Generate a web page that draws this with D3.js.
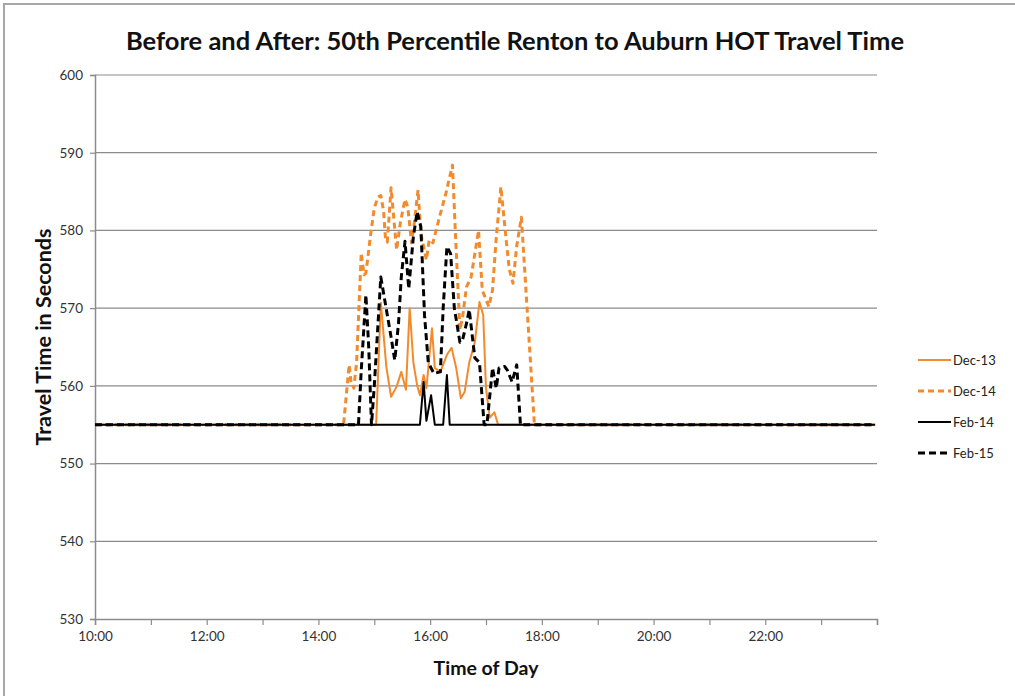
<!DOCTYPE html>
<html>
<head>
<meta charset="utf-8">
<script src="https://cdn.jsdelivr.net/npm/d3@7"></script>
<style>
  body { margin: 0; background: #fff; }
  text { font-family: Lato, "Open Sans", sans-serif; }
</style>
</head>
<body>
<div id="target"></div>
<script>
// series values: [time of day, seconds]
const dec13 = [
  ["10:00", 555], ["15:02", 555], ["15:07", 570.7], ["15:13", 562.4], ["15:18", 558.6],
  ["15:24", 559.9], ["15:29", 561.8], ["15:34", 559.5], ["15:38", 570], ["15:42", 563],
  ["15:46", 560.1], ["15:49", 558.8], ["15:53", 561.4], ["15:56", 559.7], ["16:02", 567.4],
  ["16:05", 562.3], ["16:11", 561.8], ["16:18", 564], ["16:23", 564.9], ["16:28", 562.3],
  ["16:33", 558.4], ["16:37", 559.2], ["16:42", 563], ["16:48", 565.6], ["16:53", 570.8],
  ["16:57", 569.1], ["17:00", 559.7], ["17:04", 555.9], ["17:09", 556.6], ["17:13", 555],
  ["23:58", 555]
];
const dec14 = [
  ["10:00", 555], ["14:27", 555], ["14:33", 562.7], ["14:35", 560.5], ["14:38", 559.7],
  ["14:41", 563], ["14:46", 577.1], ["14:49", 574.3], ["14:51", 574.5], ["14:56", 579.4],
  ["15:00", 582.9], ["15:04", 584.3], ["15:07", 584.5], ["15:10", 582.5], ["15:12", 579],
  ["15:14", 578.5], ["15:18", 585.5], ["15:24", 577.5], ["15:28", 581], ["15:33", 584],
  ["15:36", 583], ["15:40", 578.4], ["15:43", 581], ["15:47", 585.2], ["15:50", 579.6],
  ["15:56", 576.2], ["15:59", 578.8], ["16:03", 578.4], ["16:10", 581.7], ["16:17", 584.8],
  ["16:21", 586.9], ["16:24", 588.4], ["16:27", 580], ["16:32", 567.2], ["16:35", 569],
  ["16:39", 572.7], ["16:44", 574], ["16:48", 577], ["16:52", 580], ["16:56", 572.3],
  ["17:03", 570.2], ["17:07", 572.3], ["17:11", 579], ["17:16", 585.6], ["17:22", 578.4],
  ["17:25", 575], ["17:29", 573.2], ["17:33", 578], ["17:38", 581.7], ["17:52", 555],
  ["23:58", 555]
];
const feb14 = [
  ["10:00", 555], ["15:49", 555], ["15:53", 560.5], ["15:56", 555.5], ["16:01", 558.8],
  ["16:05", 555], ["16:14", 555], ["16:18", 561.4], ["16:21", 555], ["23:58", 555]
];
const feb15 = [
  ["10:00", 555], ["14:43", 555], ["14:46", 562], ["14:51", 571.7], ["14:54", 565],
  ["14:57", 555], ["15:00", 560], ["15:04", 568], ["15:07", 574], ["15:13", 569.8],
  ["15:18", 566.3], ["15:22", 563.3], ["15:26", 568], ["15:29", 574], ["15:33", 578.6],
  ["15:37", 572.5], ["15:42", 579.2], ["15:46", 582.4], ["15:50", 580.5], ["15:54", 569],
  ["15:58", 563], ["16:04", 561.6], ["16:11", 561.8], ["16:14", 570], ["16:18", 577.9],
  ["16:22", 577], ["16:26", 570], ["16:32", 565.6], ["16:35", 566], ["16:39", 568],
  ["16:42", 569.8], ["16:48", 563.6], ["16:53", 563], ["16:58", 555], ["17:01", 555],
  ["17:07", 562.3], ["17:11", 559.7], ["17:14", 562.3], ["17:20", 562.5], ["17:23", 562],
  ["17:28", 560.5], ["17:33", 562.7], ["17:37", 555], ["23:58", 555]
];

const seriesNames = ["Dec-13", "Dec-14", "Feb-14", "Feb-15"];
const seriesData = [dec13, dec14, feb14, feb15];
const xTickHours = [10, 11, 12, 13, 14, 15, 16, 17, 18, 19, 20, 21, 22, 23, 24];
const yTicks = [530, 540, 550, 560, 570, 580, 590, 600];

const styles = {
  "Dec-13": { color: "#f28a2e", width: 2, dash: null },
  "Dec-14": { color: "#f28a2e", width: 3, dash: "6,4" },
  "Feb-14": { color: "#000", width: 2, dash: null },
  "Feb-15": { color: "#000", width: 3, dash: "7,4" }
};

const width = 1015,
  height = 696,
  plotLeft = 95,
  plotRight = 877,
  plotTop = 75,
  plotBottom = 619;

const toMin = (s) => {
  const p = s.split(":");
  return +p[0] * 60 + +p[1];
};

const svg = d3.select("#target").append("svg")
  .attr("width", width)
  .attr("height", height);

svg.append("rect")
  .attr("x", 4).attr("y", 4)
  .attr("width", width + 20).attr("height", height + 20)
  .attr("fill", "none")
  .attr("stroke", "#a6a6a6")
  .attr("stroke-width", 2);

const x = d3.scaleLinear()
  .domain([600, 1440])
  .range([plotLeft, plotRight]);
const y = d3.scaleLinear()
  .domain([530, 600])
  .range([plotBottom, plotTop]);

// gridlines
svg.append("g")
  .selectAll("line")
  .data(yTicks.slice(1))
  .enter().append("line")
  .attr("x1", plotLeft).attr("x2", plotRight)
  .attr("y1", (d) => y(d)).attr("y2", (d) => y(d))
  .attr("stroke", "#8c8c8c")
  .attr("stroke-width", 1.2);

const yAxis = d3.axisLeft(y)
  .tickValues(yTicks)
  .tickSize(5)
  .tickPadding(7)
  .tickFormat(d3.format("d"));
const gy = svg.append("g")
  .attr("transform", `translate(${plotLeft},0)`)
  .call(yAxis);

const xAxis = d3.axisBottom(x)
  .tickValues(xTickHours.map((h) => h * 60))
  .tickSize(6)
  .tickPadding(6)
  .tickFormat((d) => (d / 60) % 2 === 0 && d < 1440 ? `${d / 60}:00` : "");
const gx = svg.append("g")
  .attr("transform", `translate(0,${plotBottom})`)
  .call(xAxis);

[gx, gy].forEach((g) => {
  g.select(".domain").attr("stroke", "#8c8c8c").attr("stroke-width", 1.5);
  g.selectAll(".tick line").attr("stroke", "#8c8c8c").attr("stroke-width", 1.2);
  g.selectAll("text")
    .attr("fill", "#333")
    .style("font-size", "13.5px");
});

const line = d3.line()
  .x((d) => x(toMin(d[0])))
  .y((d) => y(d[1]));

seriesNames.forEach((name, i) => {
  const s = styles[name];
  svg.append("path")
    .datum(seriesData[i])
    .attr("fill", "none")
    .attr("stroke", s.color)
    .attr("stroke-width", s.width)
    .attr("stroke-dasharray", s.dash)
    .attr("stroke-linejoin", "round")
    .attr("d", line);
});

// legend
const legend = svg.append("g");
seriesNames.forEach((name, i) => {
  const s = styles[name];
  const ly = 360 + i * 31;
  legend.append("line")
    .attr("x1", 918).attr("x2", 951)
    .attr("y1", ly).attr("y2", ly)
    .attr("stroke", s.color)
    .attr("stroke-width", s.width)
    .attr("stroke-dasharray", s.dash);
  legend.append("text")
    .attr("x", 953).attr("y", ly + 4.5)
    .attr("fill", "#222")
    .style("font-size", "13px")
    .text(name);
});

svg.append("text")
  .attr("x", 515).attr("y", 50)
  .attr("text-anchor", "middle")
  .style("font-size", "25.5px")
  .style("font-weight", "bold")
  .attr("fill", "#111")
  .text("Before and After: 50th Percentile Renton to Auburn HOT Travel Time");

svg.append("text")
  .attr("x", 486).attr("y", 675)
  .attr("text-anchor", "middle")
  .style("font-size", "19.5px")
  .style("font-weight", "bold")
  .attr("fill", "#111")
  .text("Time of Day");

svg.append("text")
  .attr("transform", "translate(51,337) rotate(-90)")
  .attr("text-anchor", "middle")
  .style("font-size", "21.5px")
  .style("font-weight", "bold")
  .attr("fill", "#111")
  .text("Travel Time in Seconds");
</script>
</body>
</html>
